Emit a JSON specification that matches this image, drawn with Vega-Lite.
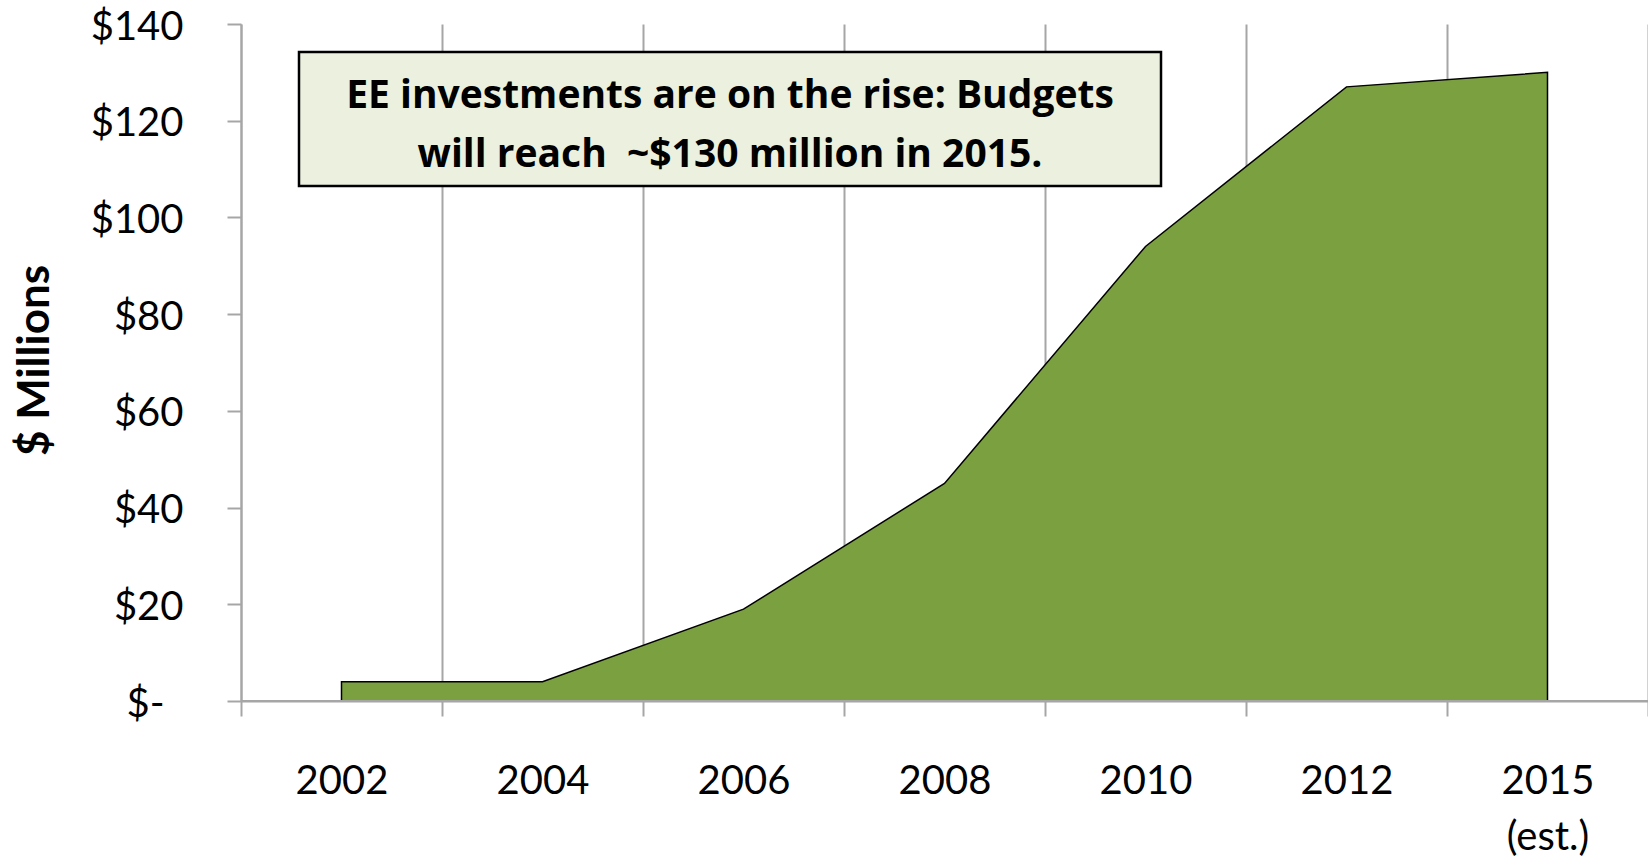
{
  "$schema": "https://vega.github.io/schema/vega-lite/v6.json",
  "autosize": {"type": "none"},
  "padding": {"left": 241, "top": 24, "right": 0, "bottom": 159},
  "width": 1407,
  "height": 677,
  "background": "white",
  "config": {"view": {"stroke": null}, "font": "Lato"},
  "layer": [
    {
      "data": {"values": [
        {"year": "2002", "budget": 4},
        {"year": "2004", "budget": 4},
        {"year": "2006", "budget": 19},
        {"year": "2008", "budget": 45},
        {"year": "2010", "budget": 94},
        {"year": "2012", "budget": 127},
        {"year": "2015 (est.)", "budget": 130}
      ]},
      "mark": {"type": "area", "fill": "#7ba03f", "stroke": "#000000", "strokeWidth": 1.5, "strokeJoin": "miter", "opacity": 1},
      "encoding": {
        "x": {
          "field": "year", "type": "nominal", "bandPosition": 0.5,
          "scale": {"type": "band", "paddingInner": 0, "paddingOuter": 0,
                    "domain": ["2002", "2004", "2006", "2008", "2010", "2012", "2015 (est.)"]},
          "axis": {
            "title": null, "tickBand": "extent", "grid": true,
            "gridColor": "#a6a6a6", "gridWidth": 2,
            "domainColor": "#a6a6a6", "domainWidth": 2,
            "tickColor": "#a6a6a6", "tickWidth": 2, "tickSize": 15,
            "labelFont": "Lato", "labelFontSize": 40, "labelColor": "#000000",
            "labelPadding": 45, "labelBaseline": "top", "labelLineHeight": 56,
            "labelAngle": 0,
            "labelExpr": "datum.value == '2015 (est.)' ? ['2015', '(est.)'] : datum.label"
          }
        },
        "y": {
          "field": "budget", "type": "quantitative",
          "scale": {"domain": [0, 140], "nice": false, "zero": true},
          "axis": {
            "title": "$ Millions", "titleFont": "Lato", "titleFontSize": 44,
            "titleFontWeight": "bold", "titleColor": "#000000",
            "titleX": -206, "titleY": 336, "titleAngle": -90,
            "titleAlign": "center", "titleBaseline": "middle",
            "grid": false, "values": [0, 20, 40, 60, 80, 100, 120, 140],
            "domainColor": "#a6a6a6", "domainWidth": 2,
            "tickColor": "#a6a6a6", "tickWidth": 2, "tickSize": 14,
            "labelFont": "Lato", "labelFontSize": 40, "labelColor": "#000000",
            "labelPadding": {"condition": {"test": "datum.value == 0", "value": 63}, "value": 44},
            "labelOffset": 3,
            "labelExpr": "datum.value == 0 ? '$-' : '$' + datum.value"
          }
        }
      }
    },
    {
      "data": {"values": [{}]},
      "mark": {"type": "rule", "color": "#a6a6a6", "strokeWidth": 2},
      "encoding": {"y": {"datum": 0}}
    },
    {
      "data": {"values": [{}]},
      "mark": {"type": "rect", "fill": "#ebf1de", "stroke": "#000000", "strokeWidth": 2.5, "xOffset": -42.5, "x2Offset": 15.5},
      "encoding": {
        "x": {"datum": "2002"},
        "x2": {"datum": "2010"},
        "y": {"datum": 134.2},
        "y2": {"datum": 106.5}
      }
    },
    {
      "data": {"values": [{}]},
      "mark": {
        "type": "text",
        "text": ["EE investments are on the rise: Budgets", "will reach\u00a0 ~$130 million in 2015."],
        "font": "Open Sans", "fontSize": 39, "fontWeight": "bold", "color": "#000000",
        "align": "center", "baseline": "alphabetic", "lineHeight": 59, "xOffset": -13.5
      },
      "encoding": {
        "x": {"datum": "2006"},
        "y": {"datum": 122.6}
      }
    }
  ]
}
